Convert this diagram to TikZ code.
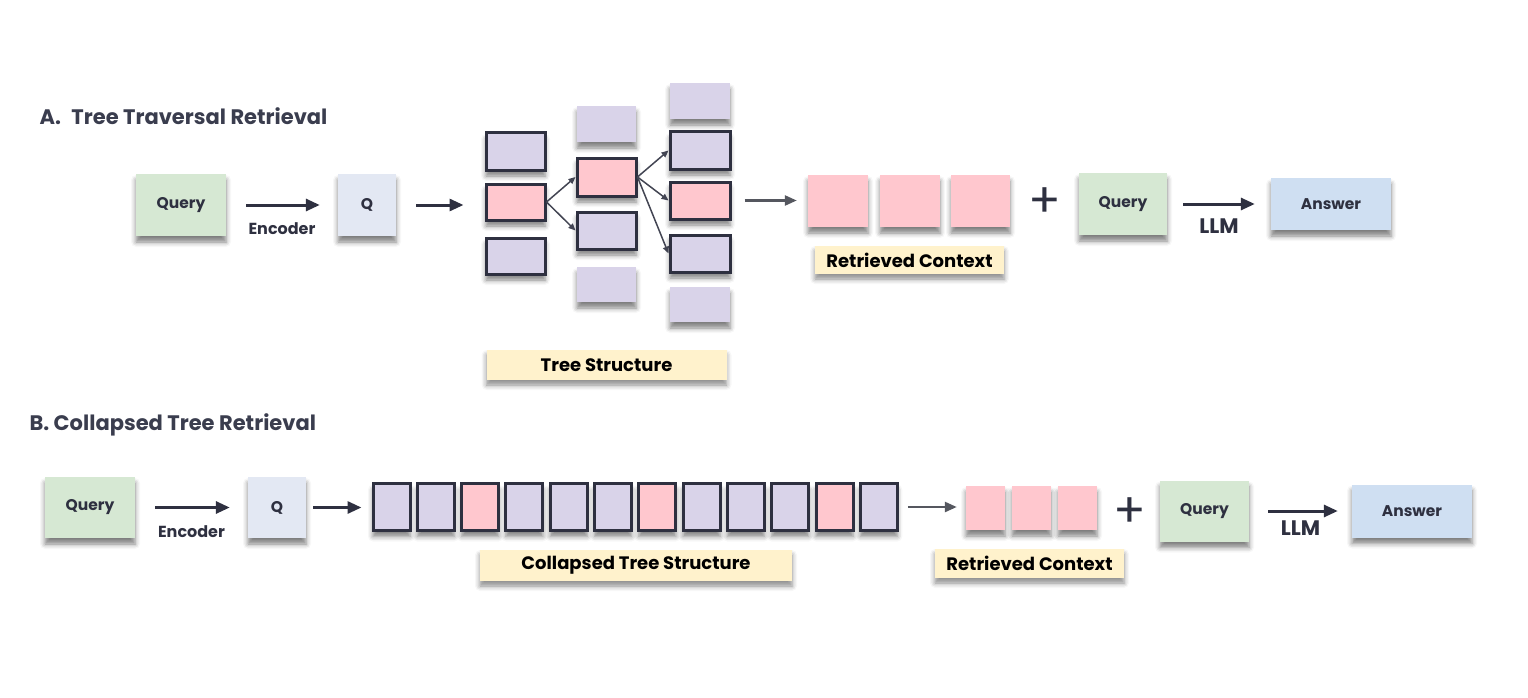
\documentclass[tikz,border=0pt]{standalone}
\usepackage{fontspec}
\setmainfont{Poppins}
\usepackage{tikz}
\usetikzlibrary{
    arrows.meta,
    positioning,
    shadows.blur
}
\definecolor{ink}{HTML}{2E3040}
\definecolor{titleink}{HTML}{3A3D4E}
\definecolor{arrowgray}{HTML}{55575F}
\definecolor{querygreen}{HTML}{D6E8D3}
\definecolor{qblue}{HTML}{E3E8F3}
\definecolor{answerblue}{HTML}{CFDFF2}
\definecolor{leafpurple}{HTML}{D9D3E9}
\definecolor{leafpink}{HTML}{FFC7CE}
\definecolor{tagyellow}{HTML}{FFF2CC}
\tikzset
{
  card/.style={inner sep=0pt, text=ink, font=\bfseries\fontsize{15.5}{18}\selectfont,
    blur shadow={shadow xshift=0pt, shadow yshift=-6pt, shadow blur radius=5pt, shadow opacity=50}},
  dims/.style 2 args={minimum width=#1, minimum height=#2},
  query/.style={card, fill=querygreen},
  enc/.style={card, fill=qblue},
  answer/.style={card, fill=answerblue},
  leaf/.style={card, fill=leafpurple},
  leafsel/.style={card, fill=leafpink},
  framed/.style={draw=ink, line width=3pt},
  tag/.style={card, fill=tagyellow, text=black, font=\bfseries\fontsize{18}{20}\selectfont,
    blur shadow={shadow xshift=0pt, shadow yshift=-5pt, shadow blur radius=5pt, shadow opacity=25}},
  flow/.style={draw=ink, line width=3pt, -{Triangle[length=14pt,width=12pt]}},
  feed/.style={draw=arrowgray, line width=2.5pt, -{Triangle[length=12pt,width=10pt]}},
  branch/.style={draw=ink!90, line width=1.5pt, -{Triangle[length=7pt,width=6pt]}},
  title/.style={anchor=west, text=titleink, font=\bfseries\fontsize{21}{24}\selectfont},
  caption/.style={text=ink, font=\bfseries\fontsize{16}{18}\selectfont},
  llm/.style={text=ink, font=\bfseries\fontsize{21}{24}\selectfont},
  plus/.style={text=ink, font=\fontsize{48}{48}\selectfont}
}

\begin{document}
\begin{tikzpicture}[x=1pt, y=-1pt]
        % Canvas
        \useasboundingbox (0,0) rectangle (1528,698);

        % A. Tree traversal retrieval
        \node[title] (titleA) at (36,116) {A.\enspace Tree Traversal Retrieval};
        \node[query, dims={90}{62}] (queryA) at (181,205) {Query};
        \node[enc, dims={58}{62}] (qA) at (367,205) {Q};

        % Tree layers
        \node[leaf, framed, dims={59}{37}] (b11) at (515.5,151.5) {};
        \node[leafsel, framed, dims={59}{36}] (b12) at (515.5,202) {};
        \node[leaf, framed, dims={59}{36}] (b13) at (515.5,256) {};
        \node[leaf, dims={59}{36}] (b21) at (606.5,124) {};
        \node[leafsel, framed, dims={59}{38}] (b22) at (606.5,177) {};
        \node[leaf, framed, dims={59}{37}] (b23) at (606.5,230.5) {};
        \node[leaf, dims={59}{35}] (b24) at (606.5,284.5) {};
        \node[leaf, dims={60}{36}] (b31) at (700,101) {};
        \node[leaf, framed, dims={60}{37}] (b32) at (700,150.5) {};
        \node[leafsel, framed, dims={60}{37}] (b33) at (700,200.5) {};
        \node[leaf, framed, dims={60}{37}] (b34) at (700,253.5) {};
        \node[leaf, dims={60}{35}] (b35) at (700,304.5) {};
        \node[tag, dims={240}{30}] (treeTag) at (606.5,365) {Tree Structure};

        % Retrieved context and answer
        \node[leafsel, dims={60}{52}] (r1) at (838,201) {};
        \node[leafsel, dims={60}{52}] (r2) at (910,201) {};
        \node[leafsel, dims={59}{52}] (r3) at (980.5,201) {};
        \node[tag, dims={189}{28}] (ctxTagA) at (909.5,260) {Retrieved Context};
        \node[plus] (plusA) at (1045,203) {+};
        \node[query, dims={88}{62}] (queryA2) at (1123,204) {Query};
        \node[answer, dims={120}{52}] (answerA) at (1331,204) {Answer};

        \draw[flow, shorten <=20pt, shorten >=18pt] (queryA) -- node[caption, below=13pt] {Encoder} (qA);
        \draw[flow, shorten <=20pt, shorten >=21pt] (qA.east) -- (qA.east -| b12.west);
        \draw[branch] (b12.east) -- (b22.west);
        \draw[branch] (b12.east) -- (b23.west);
        \draw[branch] (b22.east) -- (b32.west);
        \draw[branch] (b22.east) -- (b33.west);
        \draw[branch] (b22.east) -- (b34.west);
        \draw[feed, shorten <=13pt, shorten >=11pt] (b33.east) -- (b33.east -| r1.west);
        \draw[flow, shorten <=16pt, shorten >=16pt] (queryA2) -- node[llm, below=10pt] {LLM} (answerA);

        % B. Collapsed tree retrieval
        \node[title] (titleB) at (26,425) {B. Collapsed Tree Retrieval};
        \node[query, dims={90}{61}] (queryB) at (90,507.5) {Query};
        \node[enc, dims={58}{61}] (qB) at (277,507.5) {Q};

        % Flattened layer of all nodes
        \foreach \i/\c in {1/leafpurple,2/leafpurple,3/leafpink,4/leafpurple,5/leafpurple,6/leafpurple,
                           7/leafpink,8/leafpurple,9/leafpurple,10/leafpurple,11/leafpink,12/leafpurple}
            \node[card, framed, fill=\c, dims={37}{47}] (c\i) at ({391.5+(\i-1)*44.3},507) {};
        \node[tag, dims={312}{31}] (flatTag) at (636,565.5) {Collapsed Tree Structure};

        \node[leafsel, dims={39}{44}] (s1) at (985.5,508) {};
        \node[leafsel, dims={39}{44}] (s2) at (1031.5,508) {};
        \node[leafsel, dims={39}{44}] (s3) at (1077.5,508) {};
        \node[tag, dims={189}{29}] (ctxTagB) at (1029.5,563.5) {Retrieved Context};
        \node[plus] (plusB) at (1130,513) {+};
        \node[query, dims={89}{61}] (queryB2) at (1204.5,511) {Query};
        \node[answer, dims={120}{53}] (answerB) at (1412,511) {Answer};

        \draw[flow, shorten <=20pt, shorten >=18pt] (queryB) -- node[caption, below=13pt] {Encoder} (qB);
        \draw[flow, shorten <=7pt, shorten >=10pt] (qB.east) -- (qB.east -| c1.west);
        \draw[feed, shorten <=9pt, shorten >=9pt] (c12.east) -- (c12.east -| s1.west);
        \draw[flow, shorten <=19pt, shorten >=14pt] (queryB2) -- node[llm, below=5pt] {LLM} (answerB);
    \end{tikzpicture}
\end{document}
